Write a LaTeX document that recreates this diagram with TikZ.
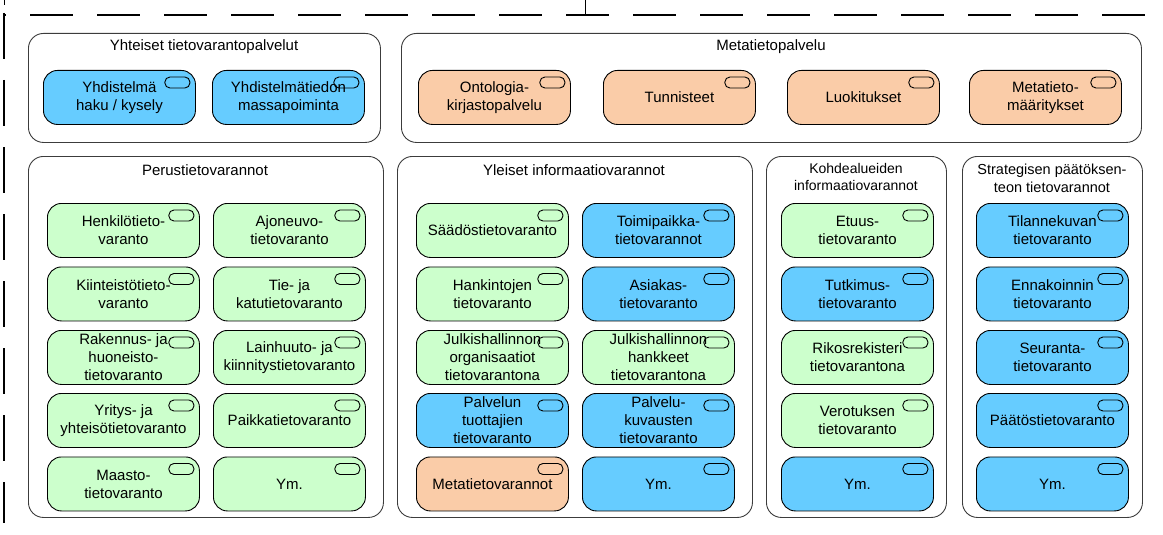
\documentclass[tikz,border=0pt]{standalone}
\usepackage{fontspec}
\setmainfont{Liberation Sans}
\definecolor{cgreen}{RGB}{204,255,204}
\definecolor{cblue}{RGB}{102,204,255}
\definecolor{corange}{RGB}{250,204,168}
\definecolor{cframe}{RGB}{60,60,60}
\tikzset{
  grp/.style={draw=cframe, line width=0.9pt, rounded corners=15pt, anchor=north west, inner sep=0pt},
  grptitle/.style={font=\fontsize{15}{18}\selectfont, align=center, inner sep=0pt},
  item/.style={draw=black, line width=0.9pt, rounded corners=14pt, anchor=north west,
    minimum width=152pt, minimum height=54pt, inner sep=0pt, align=center,
    font=\fontsize{15}{18}\selectfont},
  gitem/.style={item, fill=cgreen},
  bitem/.style={item, fill=cblue},
  oitem/.style={item, fill=corange},
  icon/.style={draw=black, line width=0.9pt, rounded corners=5pt},
  framedash/.style={line width=2.6pt, black},
}
\begin{document}
\begin{tikzpicture}[x=1pt,y=-1pt]
\useasboundingbox (0,0) rectangle (1163,535);
% outer dashed frame
\draw[framedash, dash pattern=on 43pt off 24pt, dash phase=41pt] (4,15) -- (1163,15);
\draw[framedash, dash pattern=on 46pt off 21pt] (4,13) -- (4,523);
\draw[line width=1pt] (4,0) -- (4,5);
\draw[line width=1pt] (585,0) -- (585,15);

% top groups
\node[grp, minimum width=352pt, minimum height=109pt] (gYht) at (28,33) {};
\node[grptitle] (tYht) at (204,47) {Yhteiset tietovarantopalvelut};
\node[grp, minimum width=740pt, minimum height=109pt] (gMeta) at (401,33) {};
\node[grptitle] (tMeta) at (771,47) {Metatietopalvelu};

\node[bitem] (y1) at (43,70) {Yhdistelmä\\haku / kysely};
\node[bitem] (y2) at (212,70) {Yhdistelmätiedon\\massapoiminta};

\node[oitem] (m1) at (418,70) {Ontologia-\\kirjastopalvelu};
\node[oitem] (m2) at (603,70) {Tunnisteet};
\node[oitem] (m3) at (787,70) {Luokitukset};
\node[oitem] (m4) at (969,70) {Metatieto-\\määritykset};

% bottom groups
\node[grp, minimum width=355pt, minimum height=361pt] (gPer) at (28,156) {};
\node[grptitle] (tPer) at (205,170) {Perustietovarannot};
\node[grp, minimum width=355pt, minimum height=361pt] (gYle) at (397,156) {};
\node[grptitle] (tYle) at (574,170) {Yleiset informaatiovarannot};
\node[grp, minimum width=180pt, minimum height=361pt] (gKoh) at (766,156) {};
\node[grptitle, font=\fontsize{14}{16.5}\selectfont] (tKoh) at (856,177) {Kohdealueiden\\informaatiovarannot};
\node[grp, minimum width=180pt, minimum height=361pt] (gStr) at (962,156) {};
\node[grptitle, font=\fontsize{14.5}{18}\selectfont] (tStr) at (1052,178) {Strategisen päätöksen-\\teon tietovarannot};

% Perustietovarannot
\node[gitem] (p11) at (47,203) {Henkilötieto-\\varanto};
\node[gitem] (p12) at (213,203) {Ajoneuvo-\\tietovaranto};
\node[gitem] (p21) at (47,266.5) {Kiinteistötieto-\\varanto};
\node[gitem] (p22) at (213,266.5) {Tie- ja\\katutietovaranto};
\node[gitem] (p31) at (47,330) {Rakennus- ja\\huoneisto-\\tietovaranto};
\node[gitem] (p32) at (213,330) {Lainhuuto- ja\\kiinnitystietovaranto};
\node[gitem] (p41) at (47,393) {Yritys- ja\\yhteisötietovaranto};
\node[gitem] (p42) at (213,393) {Paikkatietovaranto};
\node[gitem] (p51) at (47,456.5) {Maasto-\\tietovaranto};
\node[gitem] (p52) at (213,456.5) {Ym.};

% Yleiset informaatiovarannot
\node[gitem] (q11) at (416,203) {Säädöstietovaranto};
\node[bitem] (q12) at (582,203) {Toimipaikka-\\tietovarannot};
\node[gitem] (q21) at (416,266.5) {Hankintojen\\tietovaranto};
\node[bitem] (q22) at (582,266.5) {Asiakas-\\tietovaranto};
\node[gitem] (q31) at (416,330) {Julkishallinnon\\organisaatiot\\tietovarantona};
\node[gitem] (q32) at (582,330) {Julkishallinnon\\hankkeet\\tietovarantona};
\node[bitem] (q41) at (416,393) {Palvelun\\tuottajien\\tietovaranto};
\node[bitem] (q42) at (582,393) {Palvelu-\\kuvausten\\tietovaranto};
\node[oitem] (q51) at (416,456.5) {Metatietovarannot};
\node[bitem] (q52) at (582,456.5) {Ym.};

% Kohdealueiden informaatiovarannot
\node[gitem] (k1) at (781,203) {Etuus-\\tietovaranto};
\node[bitem] (k2) at (781,266.5) {Tutkimus-\\tietovaranto};
\node[gitem] (k3) at (781,330) {Rikosrekisteri\\tietovarantona};
\node[gitem] (k4) at (781,393) {Verotuksen\\tietovaranto};
\node[bitem] (k5) at (781,456.5) {Ym.};

% Strategisen paatoksenteon tietovarannot
\node[bitem] (s1) at (976,203) {Tilannekuvan\\tietovaranto};
\node[bitem] (s2) at (976,266.5) {Ennakoinnin\\tietovaranto};
\node[bitem] (s3) at (976,330) {Seuranta-\\tietovaranto};
\node[bitem] (s4) at (976,393) {Päätöstietovaranto};
\node[bitem] (s5) at (976,456.5) {Ym.};

% service icons
\foreach \n in {y1,y2,m1,m2,m3,m4,p11,p12,p21,p22,p31,p32,p41,p42,p51,p52,
  q11,q12,q21,q22,q31,q32,q41,q42,q51,q52,k1,k2,k3,k4,k5,s1,s2,s3,s4,s5}
  \draw[icon] ([xshift=-31pt,yshift=-7pt]\n.north east) rectangle ([xshift=-6pt,yshift=-18pt]\n.north east);
\end{tikzpicture}
\end{document}
